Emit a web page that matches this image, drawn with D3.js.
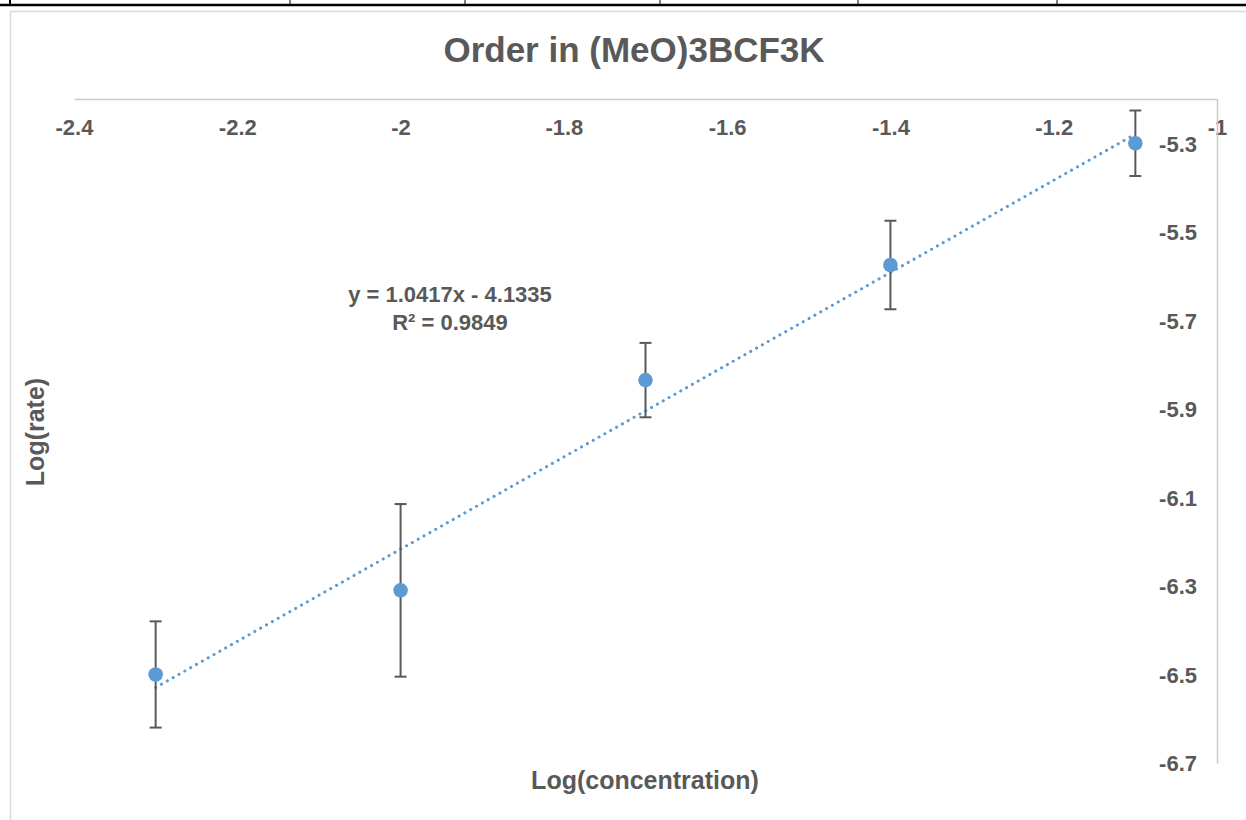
<!DOCTYPE html>
<html>
<head>
<meta charset="utf-8">
<script src="https://cdn.jsdelivr.net/npm/d3@7"></script>
<style>
  html, body { margin: 0; padding: 0; background: #fff; }
  svg { display: block; font-family: "Liberation Sans", Arial, sans-serif; }
</style>
</head>
<body>
<svg id="chart" width="1246" height="820"></svg>
<script>
// data
const logConc = [-2.3, -2.0, -1.7, -1.4, -1.1];
const logRate = [-6.50, -6.31, -5.835, -5.575, -5.30];
const errBar = [0.12, 0.195, 0.084, 0.10, 0.074];
const xTicks = [-2.4, -2.2, -2.0, -1.8, -1.6, -1.4, -1.2, -1.0];
const yTicks = [-5.3, -5.5, -5.7, -5.9, -6.1, -6.3, -6.5, -6.7];
const trendSlope = 1.0417;
const trendIntercept = -4.1335;
const rSquared = 0.9849;
const tableCols = [10, 290, 465, 660, 858, 1057];

const svg = d3.select("#chart");
const textColor = "#595959";
const blue = "#5b9bd5";
// plain hyphen minus like Excel
const fmt = d => String(+d.toFixed(2));

// bit of the table above the chart
svg.append("line")
    .attr("x1", 0).attr("x2", 1246)
    .attr("y1", 5).attr("y2", 5)
    .attr("stroke", "#000").attr("stroke-width", 2.5);
svg.selectAll(".tcol")
    .data(tableCols)
    .enter().append("line")
    .attr("x1", d => d).attr("x2", d => d)
    .attr("y1", 0).attr("y2", 5)
    .attr("stroke", "#000").attr("stroke-width", (d, i) => i === 0 ? 2 : 1);

// chart frame
svg.append("path")
    .attr("d", "M10.5,825 L10.5,11.5 L1250,11.5")
    .attr("fill", "none")
    .attr("stroke", "#d9d9d9").attr("stroke-width", 1.5);

// scales
const x = d3.scaleLinear().domain([-2.4, -1.0]).range([74, 1217]);
const y = d3.scaleLinear().domain([-6.7, -5.2]).range([763, 99]);

// title
svg.append("text")
    .attr("x", 634).attr("y", 62)
    .attr("text-anchor", "middle")
    .attr("font-size", 35).attr("font-weight", "bold")
    .attr("fill", textColor)
    .text("Order in (MeO)3BCF3K");

// x axis at the top
const xAxis = svg.append("g")
    .attr("transform", "translate(0," + y(-5.2) + ")")
    .call(d3.axisTop(x).tickValues(xTicks).tickSize(0).tickFormat(fmt));
xAxis.select(".domain").attr("stroke", "#c9c9c9").attr("stroke-width", 1.5);
xAxis.selectAll("text")
    .attr("y", 36)
    .attr("dy", 0)
    .attr("font-size", 22).attr("font-weight", "bold")
    .attr("font-family", "Liberation Sans, Arial, sans-serif")
    .attr("fill", textColor);

// y axis on the right
const yAxis = svg.append("g")
    .attr("transform", "translate(" + x(-1.0) + ",0)")
    .call(d3.axisRight(y).tickValues(yTicks).tickSize(0).tickFormat(fmt));
yAxis.select(".domain").attr("stroke", "#c9c9c9").attr("stroke-width", 1.5);
yAxis.selectAll("text")
    .attr("x", -20)
    .attr("dy", "0.36em")
    .attr("text-anchor", "end")
    .attr("font-size", 22).attr("font-weight", "bold")
    .attr("font-family", "Liberation Sans, Arial, sans-serif")
    .attr("fill", textColor);

// axis titles
svg.append("text")
    .attr("x", 645).attr("y", 789)
    .attr("text-anchor", "middle")
    .attr("font-size", 25).attr("font-weight", "bold")
    .attr("fill", textColor)
    .text("Log(concentration)");

svg.append("text")
    .attr("transform", "translate(44,432) rotate(-90)")
    .attr("text-anchor", "middle")
    .attr("font-size", 25).attr("font-weight", "bold")
    .attr("fill", textColor)
    .text("Log(rate)");

// trendline (dotted)
const xMin = d3.min(logConc), xMax = d3.max(logConc);
svg.append("line")
    .attr("x1", x(xMin)).attr("y1", y(trendSlope * xMin + trendIntercept))
    .attr("x2", x(xMax)).attr("y2", y(trendSlope * xMax + trendIntercept))
    .attr("stroke", blue).attr("stroke-width", 3)
    .attr("stroke-linecap", "round")
    .attr("stroke-dasharray", "0.1 6.6");

// equation
const eq = svg.append("text")
    .attr("text-anchor", "middle")
    .attr("font-size", 22).attr("font-weight", "bold")
    .attr("fill", textColor);
eq.append("tspan").attr("x", 450).attr("y", 302)
    .text("y = " + trendSlope.toFixed(4) + "x - " + Math.abs(trendIntercept).toFixed(4));
eq.append("tspan").attr("x", 450).attr("y", 330)
    .text("R² = " + rSquared.toFixed(4));

// error bars
const points = logConc.map((c, i) => ({ x: c, y: logRate[i], e: errBar[i] }));
const bars = svg.selectAll(".err")
    .data(points)
    .enter().append("g")
    .attr("class", "err")
    .attr("stroke", textColor).attr("stroke-width", 2);
bars.append("line")
    .attr("x1", d => x(d.x)).attr("x2", d => x(d.x))
    .attr("y1", d => y(d.y + d.e)).attr("y2", d => y(d.y - d.e));
bars.append("line")
    .attr("x1", d => x(d.x) - 6).attr("x2", d => x(d.x) + 6)
    .attr("y1", d => y(d.y + d.e)).attr("y2", d => y(d.y + d.e));
bars.append("line")
    .attr("x1", d => x(d.x) - 6).attr("x2", d => x(d.x) + 6)
    .attr("y1", d => y(d.y - d.e)).attr("y2", d => y(d.y - d.e));

// markers
svg.selectAll(".pt")
    .data(points)
    .enter().append("circle")
    .attr("class", "pt")
    .attr("cx", d => x(d.x)).attr("cy", d => y(d.y))
    .attr("r", 7.3)
    .attr("fill", blue);
</script>
</body>
</html>
